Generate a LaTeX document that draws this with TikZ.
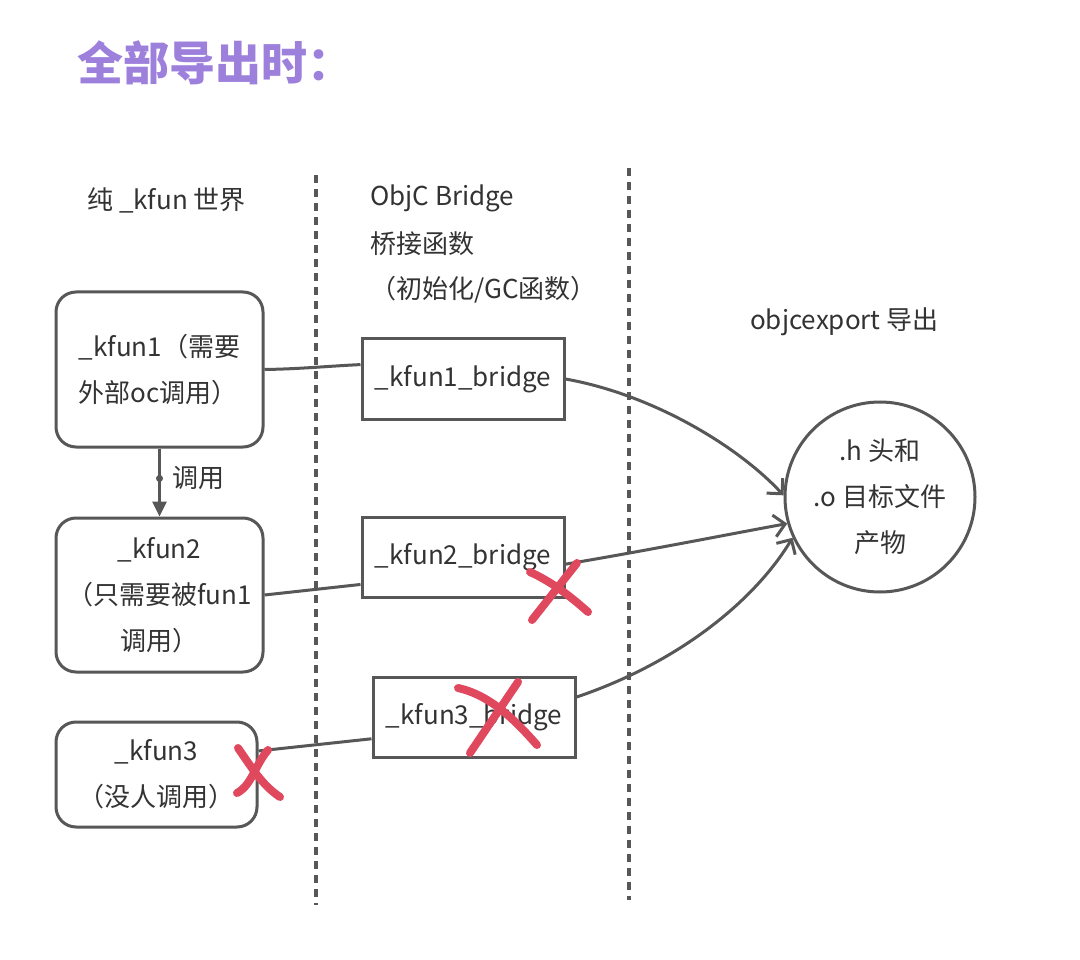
\documentclass[tikz,border=0pt]{standalone}
\usepackage{fontspec}
\setmainfont{Noto Sans CJK SC}
\usetikzlibrary{arrows.meta}
\definecolor{ln}{HTML}{575757}
\definecolor{tx}{HTML}{333333}
\definecolor{ttl}{HTML}{9D80DC}
\definecolor{xr}{HTML}{E0485E}
\begin{document}
\begin{tikzpicture}[x=1pt,y=-1pt,
  bodyfont/.style={font=\fontsize{26}{46}\selectfont},
  txt/.style={text=tx, bodyfont, inner sep=0pt, anchor=west},
  fbox/.style={draw=ln, line width=3pt, rounded corners=20pt, text=tx, bodyfont, inner sep=0pt},
  bbox/.style={draw=ln, line width=3pt, text=tx, bodyfont, inner sep=0pt, minimum width=202pt, minimum height=80pt},
  conn/.style={draw=ln, line width=3pt},
  expo/.style={conn, -{Straight Barb[length=11pt,width=22pt]}},
  cross/.style={draw=xr, line width=8pt, line cap=round},
  sep/.style={draw=ln, line width=3.5pt, dash pattern=on 8pt off 6pt}]
\useasboundingbox[fill=white] (0,0) rectangle (1080,960);

% title
\node[anchor=west, inner sep=0pt, text=ttl, font=\fontsize{46}{46}\selectfont\bfseries] (title) at (77,63) {全部导出时：};

% separators
\coordinate (s1a) at (316,175); \coordinate (s1b) at (316,905);
\coordinate (s2a) at (629,168); \coordinate (s2b) at (629,900);
\draw[sep] (s1a) -- (s1b);
\draw[sep] (s2a) -- (s2b);

% column headers
\node[txt] (h1) at (87,200) {纯 \_kfun 世界};
\node[txt] (h2a) at (370,198) {ObjC Bridge};
\node[txt] (h2b) at (370,244) {桥接函数};
\node[txt] (h2c) at (370,290) {（初始化/GC函数）};
\node[txt] (h3) at (750,322) {objcexport 导出};

% left boxes
\node[fbox, minimum width=207pt, minimum height=155pt, align=left] (k1) at (159.5,369.5) {\_kfun1（需要\\外部oc调用）};
\node[fbox, minimum width=207pt, minimum height=154pt, align=center] (k2) at (159.5,595) {\_kfun2\\（只需要被fun1\\调用）};
\node[fbox, minimum width=201pt, minimum height=105pt, align=center] (k3) at (156.5,774.5) {\_kfun3\\（没人调用）};

% bridge boxes
\node[bbox] (b1) at (463,379) {\_kfun1\_bridge};
\node[bbox] (b2) at (463,557) {\_kfun2\_bridge};
\node[bbox] (b3) at (474,717) {\_kfun3\_bridge};

% product circle
\node[circle, draw=ln, line width=3pt, minimum size=190pt, inner sep=0pt, text=tx, bodyfont, align=center] (c) at (880,497) {.h 头和\\.o 目标文件\\产物};

% call arrow
\draw[conn, -{Triangle[length=15pt,width=14pt]}] (k1.south) -- node[pos=0.44, circle, fill=ln, inner sep=0pt, minimum size=7pt] (dot) {} (k2.north);
\node[txt] (calllbl) at (172,478) {调用};

% connectors left -> bridge
\draw[conn] (k1.east) .. controls (300,369) and (330,366) .. (b1.172);
\draw[conn] (k2.east) -- (b2.195);
\draw[conn] (k3.13) -- (b3.192);

% bridge -> product
\draw[expo] (b1.east) .. controls (655,395) and (740,448) .. (c.179);
\draw[expo] (b2.-4) .. controls (650,550) and (730,534) .. (c.196);
\draw[expo] (b3.11) .. controls (680,662) and (755,600) .. (c.205);

% red crosses
\coordinate (x1a) at (530,572); \coordinate (x1b) at (588,612);
\coordinate (x1c) at (577,563); \coordinate (x1d) at (532,620);
\draw[cross] (x1a) .. controls (552,582) and (570,596) .. (x1b);
\draw[cross] (x1c) -- (x1d);
\coordinate (x2a) at (458,688); \coordinate (x2b) at (537,745);
\coordinate (x2c) at (518,682); \coordinate (x2d) at (470,753);
\draw[cross] (x2a) .. controls (490,695) and (515,720) .. (x2b);
\draw[cross] (x2c) -- (x2d);
\coordinate (x3a) at (238,748); \coordinate (x3b) at (280,797);
\coordinate (x3c) at (268,750); \coordinate (x3d) at (237,793);
\draw[cross] (x3a) .. controls (252,768) and (262,785) .. (x3b);
\draw[cross] (x3c) .. controls (255,765) and (252,785) .. (x3d);
\end{tikzpicture}
\end{document}
